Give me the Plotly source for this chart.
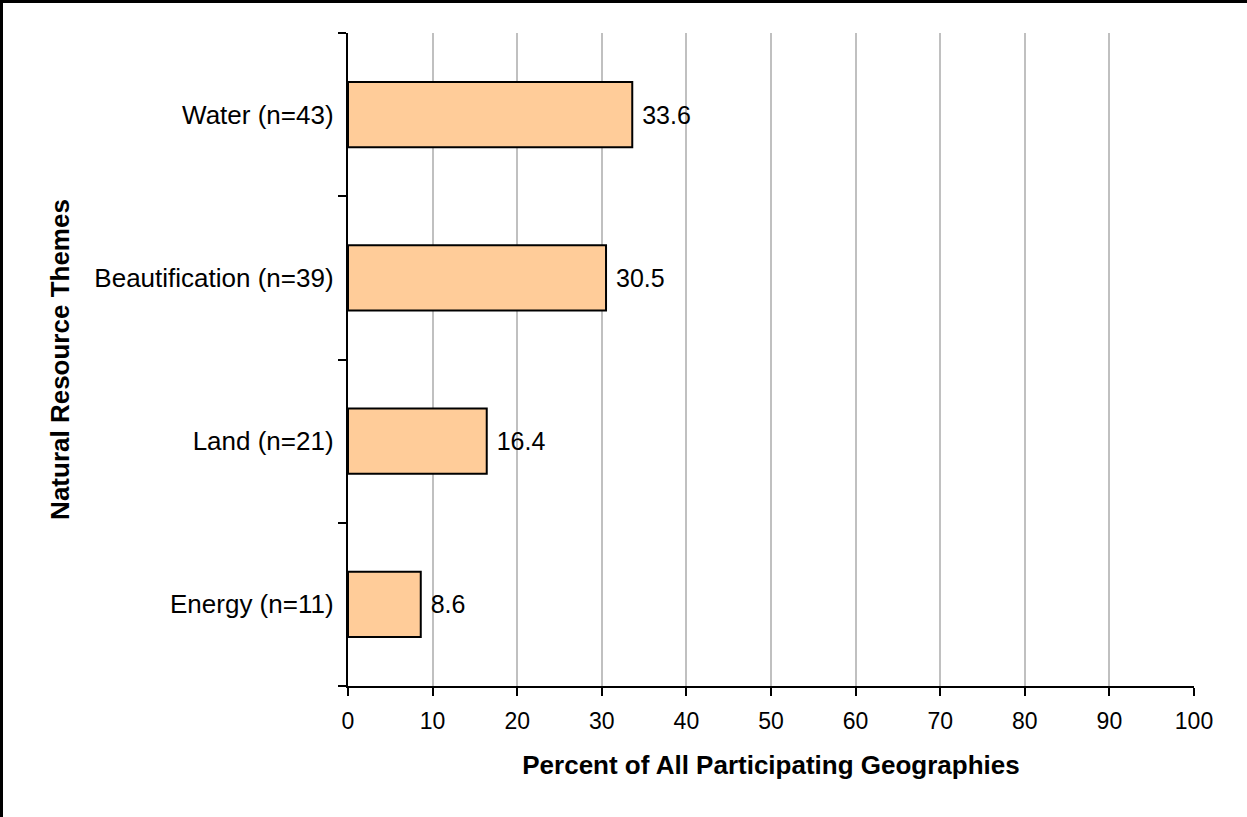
import plotly.graph_objects as go

categories = ["Energy (n=11)", "Land (n=21)", "Beautification (n=39)", "Water (n=43)"]
values = [8.6, 16.4, 30.5, 33.6]
x_ticks = [0, 10, 20, 30, 40, 50, 60, 70, 80, 90, 100]

W, H = 1247, 817
L, R, T, B = 348, 53, 33, 131
pw, ph = W - L - R, H - T - B
FONT = "Liberation Sans, Arial, sans-serif"

fig = go.Figure(go.Bar(
    x=values, y=categories, orientation="h",
    marker=dict(color="#FFCC99", line=dict(color="black", width=2)),
    text=["\u00a0" + f"{v:.1f}" for v in values], textposition="outside",
    textfont=dict(family=FONT, size=25, color="black"),
    cliponaxis=False,
))


def px_x(p):
    return (p - L) / pw


def px_y(p):
    return (H - B - p) / ph


fig.update_layout(
    width=W, height=H,
    margin=dict(l=L, r=R, t=T, b=B, autoexpand=False),
    paper_bgcolor="white", plot_bgcolor="white",
    bargap=0.6, showlegend=False,
    font=dict(family=FONT, size=23, color="black"),
    xaxis=dict(
        range=[0, 100], tickvals=x_ticks, ticks="outside", ticklen=8, tickwidth=2,
        tickcolor="black", showline=True, linecolor="black", linewidth=2,
        showgrid=True, gridcolor="#C0C0C0", gridwidth=2, zeroline=False,
        tickfont=dict(size=23), ticklabelstandoff=5,
        title=dict(text="<b>Percent of All Participating Geographies</b>",
                   font=dict(size=26), standoff=23),
    ),
    yaxis=dict(
        categoryorder="array", categoryarray=categories,
        ticks="outside", tickson="boundaries", ticklen=8, tickwidth=2, tickcolor="black",
        showline=True, linecolor="black", linewidth=2, showgrid=False,
        tickfont=dict(size=26), ticksuffix="\u00a0",
        title=dict(text="<b>Natural Resource Themes</b>", font=dict(size=26), standoff=17),
    ),
    shapes=[
        dict(type="line", xref="paper", yref="paper",
             x0=px_x(0), x1=px_x(W), y0=px_y(1.5), y1=px_y(1.5),
             line=dict(color="black", width=3)),
        dict(type="line", xref="paper", yref="paper",
             x0=px_x(1.5), x1=px_x(1.5), y0=px_y(0), y1=px_y(H),
             line=dict(color="black", width=3)),
    ],
)

fig.write_html("out.html", config={"displayModeBar": False},
               post_script="document.body.style.margin='0';")
